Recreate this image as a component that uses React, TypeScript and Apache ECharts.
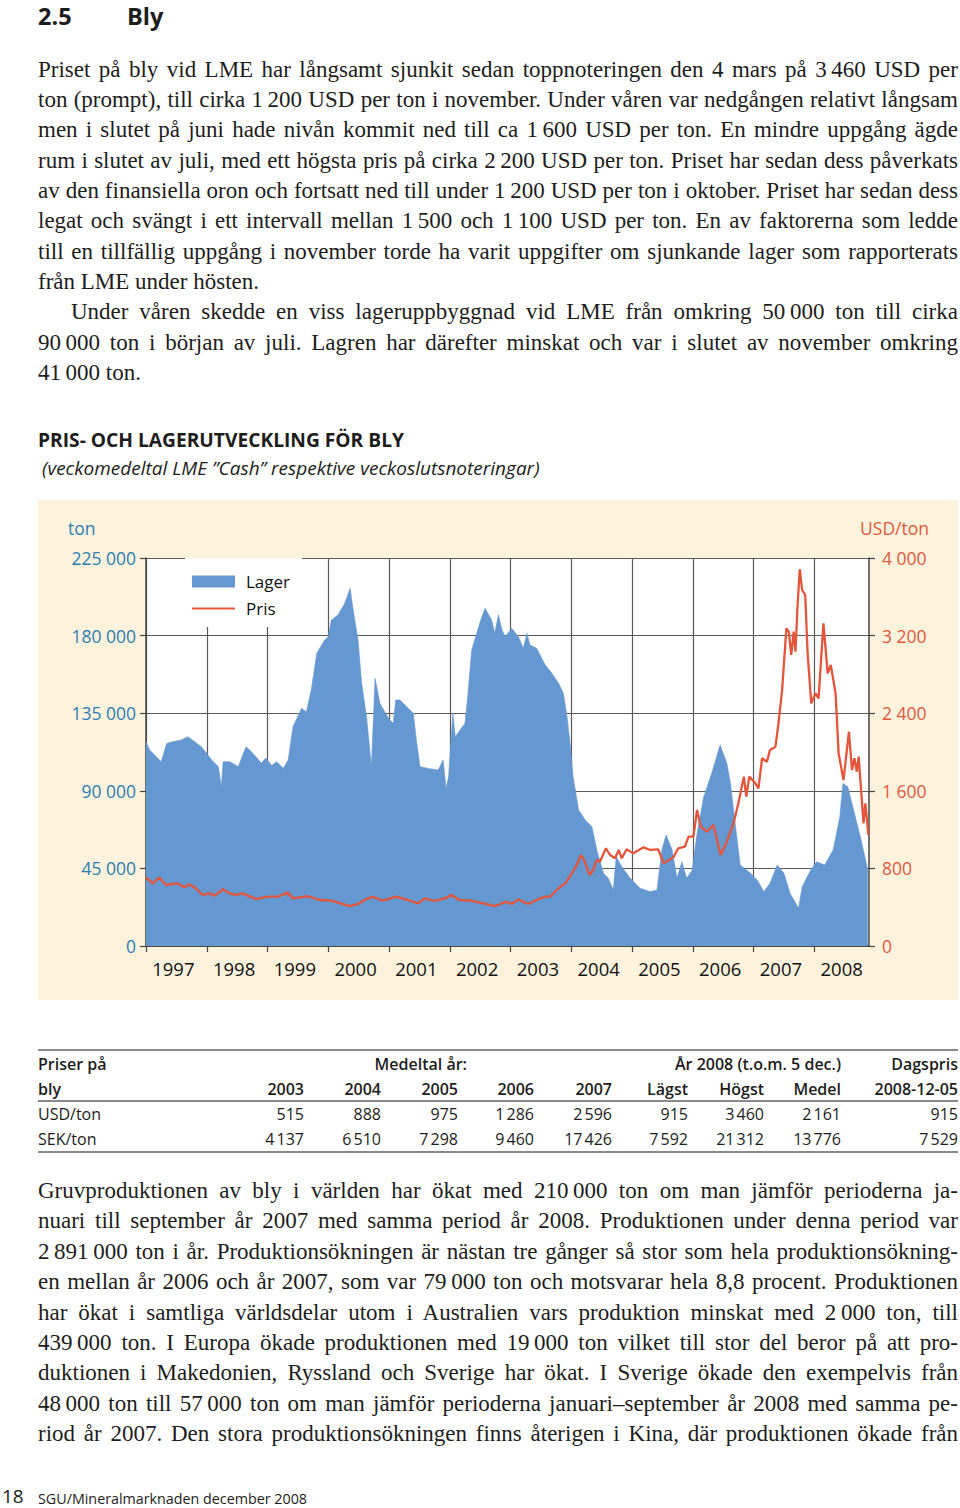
import React, { useEffect, useLayoutEffect, useRef } from 'react';
import * as echarts from 'echarts';

// ---- chart data ----
const years = [1997, 1998, 1999, 2000, 2001, 2002, 2003, 2004, 2005, 2006, 2007, 2008];

// Lager (ton), [decimal year, ton]
const lagerData: [number, number][] = [
  [1997.00, 118500], [1997.06, 113700], [1997.25, 106900], [1997.34, 117500], [1997.44, 118500],
  [1997.58, 119500], [1997.69, 121400], [1997.80, 118500], [1997.91, 115600], [1998.00, 111700],
  [1998.08, 107900], [1998.19, 104000], [1998.24, 92400], [1998.27, 106900], [1998.38, 106900],
  [1998.52, 104000], [1998.60, 111700], [1998.65, 115600], [1998.76, 111700], [1998.90, 106000],
  [1998.97, 109000], [1999.07, 104700], [1999.15, 106900], [1999.26, 103000], [1999.34, 107900],
  [1999.42, 127200], [1999.56, 137800], [1999.64, 135900], [1999.72, 148500], [1999.81, 169700],
  [1999.94, 177400], [2000.00, 179400], [2000.05, 189000], [2000.16, 192000], [2000.27, 198700],
  [2000.36, 207400], [2000.41, 194800], [2000.49, 177400], [2000.55, 152300], [2000.63, 133000],
  [2000.71, 104000], [2000.77, 155200], [2000.85, 140700], [2000.99, 132000], [2001.07, 129100],
  [2001.11, 142700], [2001.18, 142700], [2001.29, 138800], [2001.40, 135000], [2001.45, 119500],
  [2001.51, 104000], [2001.65, 103000], [2001.81, 102000], [2001.89, 107900], [2001.94, 91400],
  [2001.98, 98200], [2002.05, 135000], [2002.09, 121400], [2002.17, 125300], [2002.25, 129100],
  [2002.30, 146500], [2002.36, 171600], [2002.41, 177400], [2002.50, 188100], [2002.58, 195800],
  [2002.69, 189000], [2002.74, 181300], [2002.80, 192000], [2002.86, 183200], [2002.91, 179400],
  [2003.02, 184200], [2003.13, 179400], [2003.21, 172600], [2003.27, 181300], [2003.32, 174500],
  [2003.43, 172600], [2003.57, 163000], [2003.68, 158100], [2003.79, 152300], [2003.87, 146500],
  [2003.93, 133000], [2003.98, 117500], [2004.03, 98200], [2004.12, 78900], [2004.23, 73000],
  [2004.34, 69200], [2004.42, 55700], [2004.53, 42200], [2004.61, 39300], [2004.69, 32500],
  [2004.74, 51800], [2004.83, 46000], [2004.97, 39300], [2005.13, 33500], [2005.30, 31500],
  [2005.41, 32500], [2005.49, 55700], [2005.56, 64400], [2005.66, 55700], [2005.74, 39300],
  [2005.82, 48900], [2005.90, 39300], [2005.99, 44100], [2006.07, 65400], [2006.18, 86600],
  [2006.31, 100100], [2006.45, 116600], [2006.56, 106000], [2006.62, 94300], [2006.73, 61500],
  [2006.78, 47000], [2006.95, 42200], [2007.06, 38300], [2007.17, 31500], [2007.27, 36400],
  [2007.39, 47000], [2007.50, 42200], [2007.60, 30600], [2007.74, 21900], [2007.80, 34400],
  [2007.94, 44100], [2008.04, 48900], [2008.17, 47000], [2008.31, 55700], [2008.42, 75000],
  [2008.47, 94300], [2008.55, 92400], [2008.66, 77000], [2008.77, 61500], [2008.88, 44100],
];

// Pris (USD/ton), [decimal year, USD/ton]
const prisData: [number, number][] = [
  [1997.00, 704], [1997.11, 646], [1997.22, 704], [1997.33, 629], [1997.52, 646], [1997.63, 605],
  [1997.71, 636], [1997.82, 595], [1997.93, 526], [1998.04, 543], [1998.13, 519], [1998.26, 584],
  [1998.37, 543], [1998.48, 526], [1998.59, 543], [1998.81, 484], [1999.00, 508], [1999.17, 508],
  [1999.33, 550], [1999.42, 491], [1999.66, 515], [1999.86, 474], [2000.05, 467], [2000.35, 412],
  [2000.49, 433], [2000.62, 481], [2000.73, 508], [2000.90, 467], [2001.12, 508], [2001.31, 474],
  [2001.48, 440], [2001.59, 491], [2001.75, 464], [2001.92, 491], [2002.02, 526], [2002.16, 474],
  [2002.35, 467], [2002.55, 440], [2002.74, 412], [2002.94, 457], [2003.02, 433], [2003.13, 481],
  [2003.29, 433], [2003.49, 491], [2003.57, 508], [2003.65, 508], [2003.79, 595], [2003.90, 646],
  [2004.01, 749], [2004.09, 835], [2004.16, 938], [2004.21, 887], [2004.30, 732], [2004.36, 784],
  [2004.42, 887], [2004.47, 869], [2004.57, 1007], [2004.64, 938], [2004.72, 904], [2004.78, 990],
  [2004.83, 904], [2004.91, 997], [2005.02, 955], [2005.19, 1017], [2005.30, 990], [2005.43, 997],
  [2005.52, 852], [2005.68, 914], [2005.76, 1007], [2005.87, 1024], [2005.93, 1127], [2006.01, 1127],
  [2006.07, 1402], [2006.13, 1230], [2006.23, 1178], [2006.34, 1247], [2006.46, 938], [2006.56, 1075],
  [2006.67, 1265], [2006.75, 1471], [2006.84, 1746], [2006.88, 1539], [2006.93, 1746], [2007.03, 1677],
  [2007.08, 1626], [2007.14, 1935], [2007.22, 1900], [2007.27, 2021], [2007.36, 2055], [2007.41, 2296],
  [2007.47, 2639], [2007.54, 3275], [2007.58, 3240], [2007.62, 3000], [2007.66, 3240], [2007.69, 3034],
  [2007.72, 3464], [2007.76, 3884], [2007.80, 3670], [2007.85, 3619], [2007.89, 3018], [2007.95, 2502],
  [2008.02, 2605], [2008.07, 2553], [2008.15, 3327], [2008.22, 2811], [2008.27, 2897], [2008.35, 2605],
  [2008.40, 1986], [2008.48, 1711], [2008.57, 2209], [2008.62, 1814], [2008.66, 1935], [2008.70, 1797],
  [2008.73, 1952], [2008.81, 1265], [2008.84, 1471], [2008.89, 1144],
];

// ---- table data ----
const tableHeads = ['2003', '2004', '2005', '2006', '2007', 'Lägst', 'Högst', 'Medel', '2008-12-05'];
const usdRow = ['515', '888', '975', '1\u202F286', '2\u202F596', '915', '3\u202F460', '2\u202F161', '915'];
const sekRow = ['4\u202F137', '6\u202F510', '7\u202F298', '9\u202F460', '17\u202F426', '7\u202F592', '21\u202F312', '13\u202F776', '7\u202F529'];

// ---- text ----
const topLines = [
  'Priset på bly vid LME har långsamt sjunkit sedan toppnoteringen den 4 mars på 3\u202F460 USD per',
  'ton (prompt), till cirka 1\u202F200 USD per ton i november. Under våren var nedgången relativt långsam',
  'men i slutet på juni hade nivån kommit ned till ca 1\u202F600 USD per ton. En mindre uppgång ägde',
  'rum i slutet av juli, med ett högsta pris på cirka 2\u202F200 USD per ton. Priset har sedan dess påverkats',
  'av den finansiella oron och fortsatt ned till under 1\u202F200 USD per ton i oktober. Priset har sedan dess',
  'legat och svängt i ett intervall mellan 1\u202F500 och 1\u202F100 USD per ton. En av faktorerna som ledde',
  'till en tillfällig uppgång i november torde ha varit uppgifter om sjunkande lager som rapporterats',
  'från LME under hösten.',
  'Under våren skedde en viss lageruppbyggnad vid LME från omkring 50\u202F000 ton till cirka',
  '90\u202F000 ton i början av juli. Lagren har därefter minskat och var i slutet av november omkring',
  '41\u202F000 ton.',
];
const topCenters = [70, 100, 130, 161, 191, 221, 252, 282, 312, 343, 373];
const topJustify = [true, true, true, true, true, true, true, false, true, true, false];
const topIndent = [0, 0, 0, 0, 0, 0, 0, 0, 33, 0, 0];

const bottomLines = [
  'Gruvproduktionen av bly i världen har ökat med 210\u202F000 ton om man jämför perioderna ja-',
  'nuari till september år 2007 med samma period år 2008. Produktionen under denna period var',
  '2\u202F891\u202F000 ton i år. Produktionsökningen är nästan tre gånger så stor som hela produktionsökning-',
  'en mellan år 2006 och år 2007, som var 79\u202F000 ton och motsvarar hela 8,8 procent. Produktionen',
  'har ökat i samtliga världsdelar utom i Australien vars produktion minskat med 2\u202F000 ton, till',
  '439\u202F000 ton. I Europa ökade produktionen med 19\u202F000 ton vilket till stor del beror på att pro-',
  'duktionen i Makedonien, Ryssland och Sverige har ökat. I Sverige ökade den exempelvis från',
  '48\u202F000 ton till 57\u202F000 ton om man jämför perioderna januari–september år 2008 med samma pe-',
  'riod år 2007. Den stora produktionsökningen finns återigen i Kina, där produktionen ökade från',
];
const bottomCenters = [1191, 1221, 1252, 1282, 1313, 1343, 1373, 1404, 1434];

const SANS = '"Open Sans", "Noto Sans", sans-serif';
const SERIF = '"Liberation Serif", "DejaVu Serif", serif';
const BLUE = '#6598d0';
const RED = '#e4553c';
const BLUE_TXT = '#2d7db3';
const RED_TXT = '#e0583f';

const fmt = (v: number) => String(v).replace(/\B(?=(\d{3})+(?!\d))/g, ' ');

function Chart() {
  const ref = useRef<HTMLDivElement>(null);
  useEffect(() => {
    if (!ref.current) return;
    const chart = echarts.init(ref.current, undefined, { renderer: 'svg' });
    chart.setOption({
      animation: false,
      backgroundColor: '#fdf3dc',
      textStyle: { fontFamily: SANS },
      grid: { left: 108, right: 89, top: 58, bottom: 54, show: true, backgroundColor: '#ffffff', borderWidth: 0 },
      legend: {
        orient: 'vertical',
        left: 147,
        top: 58,
        padding: [15, 12, 10, 6],
        itemWidth: 43,
        itemHeight: 12,
        itemGap: 10,
        backgroundColor: '#ffffff',
        textStyle: { fontSize: 17, color: '#111', fontFamily: SANS, padding: [0, 0, 0, 6] },
        data: [
          { name: 'Lager', icon: 'rect' },
          { name: 'Pris', itemStyle: { color: 'rgba(0,0,0,0)', borderWidth: 0, opacity: 0 } },
        ],
      },
      graphic: [
        { type: 'text', left: 30, top: 19, style: { text: 'ton', fill: BLUE_TXT, font: `17.5px ${SANS}` } },
        { type: 'text', right: 29, top: 19, style: { text: 'USD/ton', fill: RED_TXT, font: `17.5px ${SANS}` } },
      ],
      xAxis: {
        type: 'value',
        min: 1997,
        max: 2008.9,
        interval: 1,
        axisLine: { lineStyle: { color: '#444', width: 1.5 } },
        axisTick: { show: true, length: 6, lineStyle: { color: '#444', width: 1.2 }, customValues: years },
        axisLabel: {
          customValues: years.map((y) => y + 0.45),
          formatter: (v: number) => String(Math.floor(v)),
          color: '#111',
          fontSize: 18.5,
          margin: 13,
        },
        splitLine: { show: true, lineStyle: { color: '#5a5a5a', width: 1.2 } },
      },
      yAxis: [
        {
          type: 'value',
          position: 'left',
          min: 0,
          max: 225000,
          interval: 45000,
          axisLine: { show: true, lineStyle: { color: '#444', width: 1.5 } },
          axisTick: { show: true, length: 6, lineStyle: { color: '#444', width: 1.2 } },
          axisLabel: { color: BLUE_TXT, fontSize: 17.5, margin: 10, formatter: fmt },
          splitLine: { show: true, lineStyle: { color: '#5a5a5a', width: 1.2 } },
        },
        {
          type: 'value',
          position: 'right',
          min: 0,
          max: 4000,
          interval: 800,
          axisLine: { show: true, lineStyle: { color: '#444', width: 1.5 } },
          axisTick: { show: true, length: 6, lineStyle: { color: '#444', width: 1.2 } },
          axisLabel: { color: RED_TXT, fontSize: 17.5, margin: 13, formatter: fmt },
          splitLine: { show: false },
        },
      ],
      series: [
        {
          name: 'Lager',
          type: 'line',
          yAxisIndex: 0,
          data: lagerData,
          symbol: 'none',
          lineStyle: { width: 0.6, color: BLUE },
          itemStyle: { color: BLUE },
          areaStyle: { color: BLUE, opacity: 1 },
          z: 2,
        },
        {
          name: 'Pris',
          type: 'line',
          yAxisIndex: 1,
          data: prisData,
          symbol: 'none',
          lineStyle: { width: 2.3, color: RED },
          itemStyle: { color: RED },
          z: 3,
        },
      ],
    });
    return () => chart.dispose();
  }, []);
  return <div ref={ref} style={{ position: 'absolute', left: 38, top: 500, width: 920, height: 500 }} />;
}

const colRight = [304, 381, 458, 534, 612, 688, 764, 841, 958];

function Cell(props: { text: string; center: number; left?: number; right?: number; bold?: boolean }) {
  const st: React.CSSProperties = {
    position: 'absolute',
    top: props.center - 12.5,
    height: 25,
    lineHeight: '25px',
    fontFamily: SANS,
    fontSize: 16,
    fontWeight: props.bold ? 600 : 400,
    color: '#1d1d1b',
    whiteSpace: 'nowrap',
  };
  if (props.left !== undefined) st.left = props.left;
  if (props.right !== undefined) {
    st.right = 960 - props.right;
    st.textAlign = 'right';
  }
  return <div style={st}>{props.text}</div>;
}

function Line(props: { text: string; center: number; justify: boolean; indent?: number }) {
  const indent = props.indent || 0;
  return (
    <div
      data-fit="1"
      style={{
        position: 'absolute',
        left: 38 + indent,
        width: 920 - indent,
        top: props.center - 15,
        height: 30,
        lineHeight: '30px',
        fontFamily: SERIF,
        fontSize: 23,
        color: '#1d1d1b',
        whiteSpace: 'nowrap',
        textAlign: props.justify ? 'justify' : 'left',
        textAlignLast: props.justify ? 'justify' : 'left',
      } as React.CSSProperties}
    >
      <span>{props.text}</span>
    </div>
  );
}

export default function App() {
  useLayoutEffect(() => {
    const els = document.querySelectorAll<HTMLDivElement>('[data-fit]');
    els.forEach((el) => {
      const span = el.firstElementChild as HTMLElement;
      if (!span) return;
      const ta = el.style.textAlign;
      const tal = (el.style as any).textAlignLast;
      el.style.textAlign = 'left';
      (el.style as any).textAlignLast = 'left';
      span.style.letterSpacing = '0px';
      const w = span.getBoundingClientRect().width;
      const avail = el.clientWidth - 3;
      if (w > avail) {
        const n = (span.textContent || '').length;
        span.style.letterSpacing = ((avail - w) / n).toFixed(3) + 'px';
      }
      el.style.textAlign = ta;
      (el.style as any).textAlignLast = tal;
    });
  }, []);

  const rule = (y: number) => (
    <div style={{ position: 'absolute', left: 38, width: 920, top: y, height: 1.5, background: '#8a8a8a' }} />
  );
  const titleStyle: React.CSSProperties = {
    position: 'absolute', top: 0, height: 32, lineHeight: '32px', fontFamily: SANS, fontWeight: 700, fontSize: 23.5, color: '#1d1d1b',
  };
  return (
    <div style={{ position: 'absolute', left: 0, top: 0, width: 960, height: 1508, background: '#fff', overflow: 'hidden' }}>
      <div style={{ ...titleStyle, left: 38 }}>2.5</div>
      <div style={{ ...titleStyle, left: 127 }}>Bly</div>

      {topLines.map((t, i) => (
        <Line key={'t' + i} text={t} center={topCenters[i]} justify={topJustify[i]} indent={topIndent[i]} />
      ))}

      <div style={{ position: 'absolute', left: 38, top: 427, height: 26, lineHeight: '26px', fontFamily: SANS, fontWeight: 700, fontSize: 19.2, color: '#1d1d1b', whiteSpace: 'nowrap' }}>
        PRIS- OCH LAGERUTVECKLING FÖR BLY
      </div>
      <div style={{ position: 'absolute', left: 42, top: 455, height: 26, lineHeight: '26px', fontFamily: SANS, fontStyle: 'italic', fontSize: 19, color: '#1d1d1b', whiteSpace: 'nowrap' }}>
        (veckomedeltal LME ”Cash” respektive veckoslutsnoteringar)
      </div>

      <Chart />

      {rule(1049)}
      <Cell text="Priser på" center={1064} left={38} bold />
      <Cell text="Medeltal år:" center={1064} right={467} bold />
      <Cell text="År 2008 (t.o.m. 5 dec.)" center={1064} right={841} bold />
      <Cell text="Dagspris" center={1064} right={958} bold />
      <Cell text="bly" center={1089} left={38} bold />
      {tableHeads.map((h, i) => (
        <Cell key={'h' + i} text={h} center={1089} right={colRight[i]} bold />
      ))}
      {rule(1100)}
      <Cell text="USD/ton" center={1114} left={38} />
      {usdRow.map((v, i) => (
        <Cell key={'u' + i} text={v} center={1114} right={colRight[i]} />
      ))}
      <Cell text="SEK/ton" center={1139} left={38} />
      {sekRow.map((v, i) => (
        <Cell key={'s' + i} text={v} center={1139} right={colRight[i]} />
      ))}
      {rule(1151)}

      {bottomLines.map((t, i) => (
        <Line key={'b' + i} text={t} center={bottomCenters[i]} justify={true} />
      ))}

      <div style={{ position: 'absolute', left: 2, top: 1484, height: 24, lineHeight: '24px', fontFamily: SANS, fontSize: 19, color: '#1d1d1b' }}>18</div>
      <div style={{ position: 'absolute', left: 38, top: 1488, height: 22, lineHeight: '22px', fontFamily: SANS, fontSize: 14.3, color: '#1d1d1b', whiteSpace: 'nowrap' }}>
        SGU/Mineralmarknaden december 2008
      </div>
    </div>
  );
}
